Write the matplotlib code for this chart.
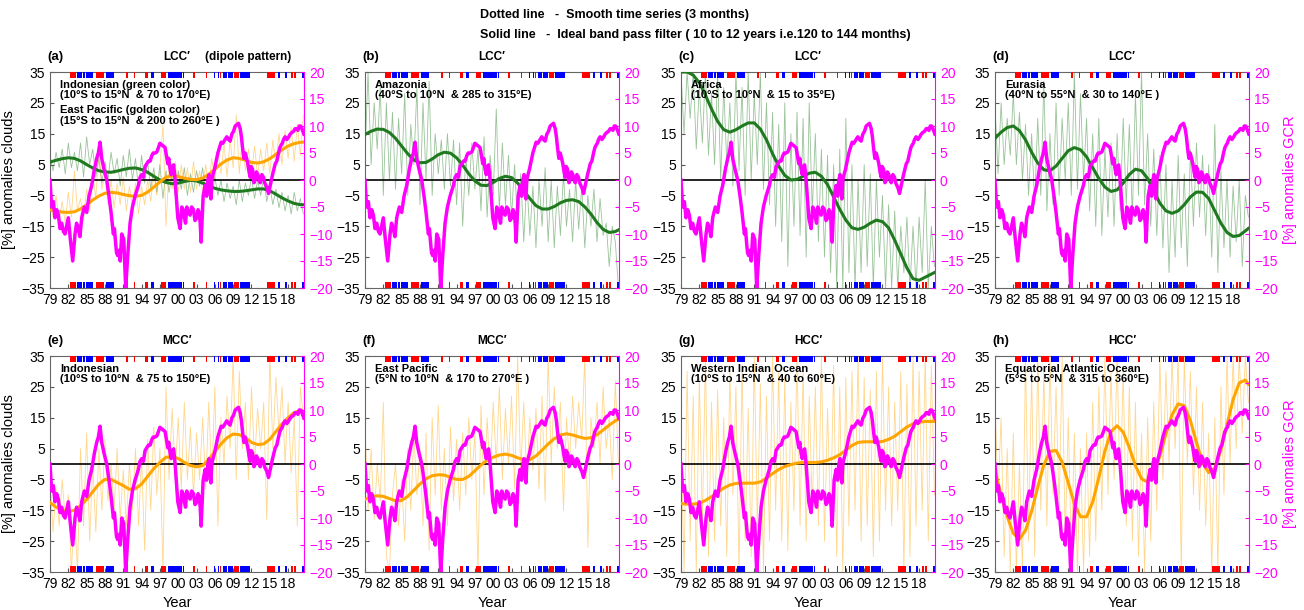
import numpy as np
import matplotlib.pyplot as plt

plt.rcParams['font.family'] = ['Liberation Sans', 'DejaVu Sans']

# sample positions (years)
thin_years = np.arange(1979, 2021, 0.5)
smooth_years = np.append(np.arange(1979, 2021), 2020.5)

# GCR anomalies [%] (right axis)
gcr_years = [1979.00, 1979.27, 1979.55, 1979.82, 1980.09, 1980.37, 1980.64, 1980.91, 1981.19, 1981.46,
             1981.73, 1982.00, 1982.33, 1982.72, 1983.10, 1983.35, 1983.64, 1983.90, 1984.19, 1984.40,
             1984.63, 1985.01, 1985.39, 1985.83, 1986.27, 1986.65, 1986.92, 1987.20, 1987.47, 1987.85,
             1988.29, 1988.67, 1989.00, 1989.38, 1989.55, 1989.77, 1989.90, 1990.09, 1990.37, 1990.50,
             1990.75, 1991.08, 1991.40, 1991.73, 1992.11, 1992.50, 1992.93, 1993.20, 1993.48, 1993.75,
             1994.03, 1994.30, 1994.57, 1995.12, 1995.40, 1995.67, 1995.90, 1996.21, 1996.50, 1996.76,
             1997.00, 1997.31, 1997.60, 1997.85, 1998.29, 1998.45, 1998.67, 1998.85, 1999.05, 1999.25,
             1999.49, 1999.93, 2000.31, 2000.45, 2000.58, 2000.80, 2001.02, 2001.20, 2001.40, 2001.65,
             2001.95, 2002.20, 2002.50, 2002.75, 2003.04, 2003.25, 2003.43, 2003.60, 2003.75, 2004.08,
             2004.41, 2004.65, 2004.85, 2005.05, 2005.23, 2005.35, 2005.50, 2005.70, 2005.94, 2006.49,
             2007.03, 2007.30, 2007.69, 2007.95, 2008.23, 2008.50, 2008.78, 2009.05, 2009.33, 2009.87,
             2010.15, 2010.35, 2010.53, 2010.75, 2010.97, 2011.20, 2011.40, 2011.60, 2011.79, 2011.95,
             2012.17, 2012.40, 2012.61, 2012.80, 2013.04, 2013.25, 2013.43, 2013.70, 2013.97, 2014.15,
             2014.36, 2014.55, 2014.79, 2015.07, 2015.45, 2015.89, 2016.15, 2016.43, 2016.65, 2016.87,
             2017.05, 2017.25, 2017.50, 2017.80, 2018.10, 2018.34, 2018.60, 2018.89, 2019.15, 2019.44,
             2019.60, 2019.82, 2020.05, 2020.26, 2020.58]
gcr_values = [0, -5, -4, -7, -5.5, -6.5, -9, -8, -9.5, -10,
              -8.5, -7, -11, -15, -10, -8, -9, -10.5, -7, -6,
              -5, -6, -3, -1, 2, 4, 5, 7, 4, 2,
              0, -3, -6, -10, -9, -12, -13.5, -14, -13, -15,
              -10, -11, -20, -14, -8, -5, -3, -2, -1, 0.5,
              1, 0.5, 2.5, 3.5, 3.5, 4.5, 5, 5, 5.2, 6,
              6.8, 6.5, 6.2, 6, 3, 4, 2, 1, 2.5, 2.8,
              0, -7, -9, -7, -5, -5.5, -7, -8, -5, -6,
              -6.5, -5, -5.5, -7.5, -7, -5.5, -6, -8, -11.5, -3,
              -1, -3, 0, 1, -2, -3.5, 0, 1, 2, 5,
              7, 6.8, 7.5, 8, 7.5, 7.2, 8.5, 9, 10, 10.5,
              9.5, 8, 6, 4, 5, 4, 3, 1.5, 0.5, 2.5,
              2, -0.5, 0, 1.5, 1, 0, -0.5, 1, 0.5, -0.5,
              -1, -1.5, -2.5, -1, 1, 3, 3.5, 5, 6, 6.5,
              6.8, 7.5, 8, 7.5, 8, 8.5, 8.8, 9, 9.5, 9.5,
              9.2, 10, 10, 9.5, 8.5]

# ENSO episodes (start, end)
el_nino = [(1982.3, 1983.3), (1986.5, 1987.85), (1991.4, 1991.8), (1992.8, 1993.0),
           (1994.6, 1995.0), (1997.1, 1998.05), (2002.4, 2002.8), (2004.5, 2004.7),
           (2006.8, 2007.0), (2009.2, 2010.0), (2014.5, 2015.9), (2018.5, 2018.8),
           (2019.0, 2019.3)]
la_nina = [(1983.5, 1984.2), (1984.4, 1984.8), (1984.9, 1986.1), (1988.2, 1988.8),
           (1988.9, 1989.5), (1995.6, 1995.8), (1995.9, 1996.1), (1998.3, 2000.6),
           (2000.8, 2001.0), (2005.8, 2005.95), (2006.5, 2006.65), (2007.3, 2008.0),
           (2008.15, 2009.05), (2010.1, 2010.9), (2011.0, 2011.8), (2016.4, 2016.7),
           (2017.5, 2017.8), (2020.3, 2020.6)]

# cloud anomalies [%], 3-month smoothed (half-year samples)
a_green_thin = [8, 3, 9, 4, 10, 2, 12, 4, 9, 3, 12, 1, 14, 5, 10, 1, 7, -1, 6, 0,
                9, 2, 7, -2, 8, 1, 10, 0, 7, -3, 8, -1, 6, -3, 4, -4, 5, -6, 3, -4,
                2, -5, 3, -3, 4, -5, 2, -4, 3, -2, 4, -5, 2, -6, 1, -5, 0, -7, -1, -6,
                -2, -8, 0, -7, -1, -5, 1, -6, 0, -5, 1, -7, -2, -8, -3, -9, -4, -10, -5, -11,
                -4, -10, -6, -11]
a_orange_thin = [-6, -12, -5, -13, -7, -14, -4, -12, 3, -10, -6, -13, -3, -10, 2, -6, 10, -3, 2, -8,
                 0, -9, -1, -8, 1, -10, -2, -9, -1, -11, -2, -8, 0, -7, 2, -5, 4, 18, -15, 4,
                 -3, 6, -4, 5, -3, 4, -4, 6, -3, 3, -4, 5, -2, 7, 0, 9, 2, 12, 1, 13,
                 4, 21, 2, 14, 3, 10, 2, 11, 1, 10, 3, 12, 2, 13, 5, 15, 5, 16, 7, 17,
                 6, 18, 8, 21]
b_green_thin = [8, 35, 5, 25, 10, 30, -5, 25, 0, 22, -3, 20, 2, 28, -5, 18, 5, 30, -8, 25,
                0, 32, -5, 15, 2, 13, -3, 15, -2, 13, -8, 12, -15, 8, -5, 12, -3, 10, -10, 14,
                -12, 8, -5, 23, -10, 12, -8, 8, -12, 5, -15, 2, -20, 0, -18, -2, -22, 0, -15, 4,
                -20, 0, -22, -2, -18, 2, -15, -3, -20, 0, -16, -2, -22, -5, -15, -3, -20, -6, -18, -14,
                -28, -15, -20, -35]
c_green_thin = [35, 15, 35, 20, 35, 10, 30, 12, 35, 8, 28, 5, 35, 0, 30, 5, 25, -2, 35, 3,
                30, -5, 35, 0, 28, 5, 35, -3, 25, -8, 22, -15, 18, -20, 25, -28, 15, -15, 22, -18,
                20, -25, 25, -10, 15, -20, 10, -25, 8, -30, 5, -35, 10, -35, 20, -30, 5, -35, 0, -30,
                5, -28, 2, -35, 0, -25, -5, -35, -8, -35, -10, -35, -15, -30, -12, -35, -15, -35, -12, -30,
                0, -35, -15, -28]
d_green_thin = [24, 2, 25, 5, 20, 8, 28, 5, 22, 0, 18, -5, 15, -8, 20, -5, 32, -10, 15, -8,
                25, -5, 20, 0, 25, -5, 35, -3, 28, 0, 20, -10, 15, -15, 20, -18, 10, -12, 12, -15,
                15, -10, 20, -8, 18, -12, 28, -5, 35, -8, 15, -15, 10, -18, 8, -22, 5, -30, 0, -25,
                8, -22, 2, -28, 10, -15, 12, -12, 8, -18, 5, -25, 18, -30, 3, -22, 0, -25, -2, -20,
                0, -28, -5, -12]
e_orange_thin = [-5, -22, -8, -20, -5, -18, -10, -35, -15, -35, 5, -20, 10, -25, 0, -22, 5, -15, 8, -12,
                 0, -15, 5, -18, -2, -20, 0, -15, 5, -20, 2, -28, 8, -15, 12, -10, 5, -35, 25, -5,
                 18, -3, 15, -8, 20, -5, 12, -10, 10, -5, 15, -8, 20, -5, 25, -20, 15, 0, 22, 5,
                 35, -5, 30, 5, 20, -5, 25, 0, 18, 5, 20, -18, 35, 5, 28, 10, 25, 0, 20, -3,
                 15, -20, 25, 15]
f_orange_thin = [12, -15, 5, -18, 0, -12, 20, -30, -35, -10, 0, -20, -5, -25, 5, -15, 10, -10, 5, -20,
                 10, -28, 15, -10, 19, -15, 5, -20, 12, -12, 8, -15, 10, -10, 15, -5, 10, -35, 19, -10,
                 15, -5, 20, 0, 25, -5, 18, 0, 22, -8, 35, -3, 20, -5, 15, -2, 18, -8, 22, -12,
                 35, 0, 25, 5, 20, -15, 15, 0, 22, 5, 20, 8, 35, -27, 15, 5, 20, 0, 25, 5,
                 15, -5, 27, 0]
g_orange_thin = [10, -35, 30, -25, 22, -35, 28, -20, 35, -30, 20, -25, 24, -20, 15, -30, 30, -10, 25, -35,
                 32, -25, 18, -30, 35, -20, 26, -35, 22, -25, 35, -15, 30, -25, 28, -28, 20, -15, 35, -20,
                 30, -25, 22, -15, 25, -20, 35, -25, 18, -18, 32, -30, 25, -35, 28, -20, 30, -15, 35, -25,
                 28, -20, 24, -30, 30, -25, 35, -15, 25, -20, 20, -15, 30, -35, 26, -30, 35, -20, 30, -15,
                 35, -25, 32, -10]
h_orange_thin = [20, -10, 15, -30, 5, -35, 10, -35, 0, -35, 35, -25, 30, -30, 35, -15, 30, -20, 35, -10,
                 25, -15, 35, -25, 15, -30, 10, -35, 5, -35, 10, -30, 20, -25, 25, -15, 35, -10, 30, -5,
                 35, -10, 30, -20, 25, -25, 20, -30, 10, -35, 15, -25, 20, -15, 35, -5, 30, 0, 35, 5,
                 35, -35, 35, 0, 30, -10, 25, -15, 20, -20, 10, -35, 15, -35, 25, -10, 35, 0, 35, 5,
                 35, 10, 35, 20]

# band pass filtered (yearly samples)
a_green_smooth = [5.8, 6.4, 6.9, 7.2, 7.0, 6.2, 5.0, 3.9, 3.0, 2.6,
                  2.5, 2.9, 3.4, 3.8, 3.9, 3.4, 2.5, 1.2, 0.0, -0.8,
                  -1.2, -1.0, -0.5, -0.1, -0.3, -1.0, -1.9, -2.7, -3.2, -3.5,
                  -3.7, -3.7, -3.5, -3.2, -2.9, -2.9, -3.5, -4.6, -5.8, -6.8,
                  -7.6, -8.0, -8.0]
a_orange_smooth = [-9.7, -10.1, -10.4, -10.5, -10.3, -9.4, -8.0, -6.5, -5.2, -4.3,
                   -4.0, -4.2, -4.7, -5.1, -5.3, -5.0, -3.9, -2.3, -0.6, 0.9,
                   1.4, 1.1, 0.6, 0.2, 0.1, 0.6, 1.8, 3.5, 5.2, 6.5,
                   7.2, 7.0, 6.4, 5.7, 5.5, 5.9, 6.9, 8.3, 9.8, 11.0,
                   11.8, 12.2, 12.3]
b_green_smooth = [14.8, 15.8, 16.5, 16.4, 15.4, 13.5, 11.0, 8.5, 6.5, 5.6,
                  5.7, 6.8, 8.2, 9.0, 8.7, 7.2, 4.8, 2.0, -0.3, -1.7,
                  -1.8, -0.8, 0.5, 1.2, 0.8, -1.0, -3.5, -6.0, -8.3, -9.4,
                  -9.4, -8.6, -7.4, -6.6, -6.4, -7.0, -8.7, -11.0, -13.8, -16.0,
                  -17.0, -16.7, -16.2]
c_green_smooth = [35.0, 35.0, 34.0, 31.5, 27.5, 23.0, 19.0, 16.3, 15.5, 16.3,
                  17.5, 18.5, 18.5, 16.5, 13.0, 8.5, 4.5, 1.5, 0.0, 0.2,
                  1.2, 2.2, 2.5, 1.2, -1.5, -5.5, -9.5, -13.0, -15.5, -16.0,
                  -15.3, -14.0, -13.0, -13.5, -15.5, -19.5, -24.0, -28.5, -32.0, -32.5,
                  -31.5, -30.5, -30.0]
d_green_smooth = [13.5, 15.5, 17.0, 17.5, 16.0, 13.0, 9.0, 5.5, 3.3, 3.0,
                  4.5, 7.0, 9.5, 10.5, 9.8, 7.5, 4.0, 0.5, -2.3, -3.7,
                  -3.2, -1.0, 1.8, 3.5, 3.0, 0.5, -3.5, -7.5, -10.0, -10.8,
                  -10.0, -8.0, -5.5, -3.9, -4.0, -6.0, -10.0, -14.0, -17.0, -18.3,
                  -18.0, -16.5, -15.7]
e_orange_smooth = [-12.5, -14.0, -15.0, -15.4, -15.0, -13.5, -11.5, -9.0, -6.5, -5.0,
                   -5.0, -6.0, -7.0, -8.2, -8.0, -6.5, -4.0, -1.5, 0.5, 2.2,
                   2.3, 1.8, 0.5, -0.5, -0.9, -0.5, 1.5, 4.0, 6.5, 8.5,
                   9.7, 9.5, 8.5, 7.0, 6.3, 6.5, 8.0, 10.5, 13.0, 15.0,
                   16.7, 17.3, 17.0]
f_orange_smooth = [-11.5, -10.6, -10.3, -10.5, -11.2, -11.9, -11.8, -10.5, -8.5, -6.5,
                   -4.8, -3.8, -3.5, -3.6, -4.3, -5.0, -5.0, -4.0, -2.2, -0.3,
                   1.2, 2.2, 2.9, 3.2, 2.8, 2.0, 1.4, 1.4, 2.6, 4.5,
                   6.5, 8.2, 9.4, 9.8, 9.4, 8.8, 8.3, 8.5, 9.5, 11.0,
                   12.6, 14.0, 14.5]
g_orange_smooth = [-12.8, -13.0, -13.0, -12.7, -11.8, -10.6, -9.2, -7.8, -6.8, -6.3,
                   -6.2, -6.2, -6.2, -5.8, -4.6, -3.1, -1.8, -0.8, -0.2, 0.3,
                   0.5, 0.5, 0.5, 0.7, 1.2, 2.0, 3.0, 4.5, 6.0, 7.0,
                   7.2, 7.2, 7.2, 7.3, 8.0, 9.0, 10.5, 12.0, 13.0, 13.5,
                   13.8, 13.8, 13.8]
h_orange_smooth = [-2.2, -10.0, -17.0, -22.5, -24.4, -21.5, -15.3, -7.5, -0.3, 4.1,
                   4.4, 0.6, -6.1, -12.9, -17.1, -17.1, -12.3, -4.4, 4.2, 10.5,
                   12.4, 10.3, 5.3, -0.5, -4.8, -5.9, -3.2, 2.6, 9.8, 16.0,
                   19.5, 18.9, 14.1, 7.0, 0.4, -2.8, -1.3, 4.5, 12.8, 20.9,
                   26.3, 27.2, 25.8]

GREEN = '#1f7a1f'
ORANGE = '#ffa500'
MAGENTA = '#ff00ff'

panels = [
    ('(a)', 'LCC\u2032', 50, 72, [(a_green_thin, a_green_smooth, GREEN), (a_orange_thin, a_orange_smooth, ORANGE)],
     ['Indonesian (green color)\n(10\u00b0S to 15\u00b0N  & 70 to 170\u00b0E)',
      'East Pacific (golden color)\n(15\u00b0S to 15\u00b0N  & 200 to 260\u00b0E )']),
    ('(b)', 'LCC\u2032', 365, 72, [(b_green_thin, b_green_smooth, GREEN)],
     ['Amazonia\n(40\u00b0S to 10\u00b0N  & 285 to 315\u00b0E)']),
    ('(c)', 'LCC\u2032', 681, 72, [(c_green_thin, c_green_smooth, GREEN)],
     ['Africa\n(10\u00b0S to 10\u00b0N  & 15 to 35\u00b0E)']),
    ('(d)', 'LCC\u2032', 995, 72, [(d_green_thin, d_green_smooth, GREEN)],
     ['Eurasia\n(40\u00b0N to 55\u00b0N  & 30 to 140\u00b0E )']),
    ('(e)', 'MCC\u2032', 50, 356, [(e_orange_thin, e_orange_smooth, ORANGE)],
     ['Indonesian\n(10\u00b0S to 10\u00b0N  & 75 to 150\u00b0E)']),
    ('(f)', 'MCC\u2032', 365, 356, [(f_orange_thin, f_orange_smooth, ORANGE)],
     ['East Pacific\n(5\u00b0N to 10\u00b0N  & 170 to 270\u00b0E )']),
    ('(g)', 'HCC\u2032', 681, 356, [(g_orange_thin, g_orange_smooth, ORANGE)],
     ['Western Indian Ocean\n(10\u00b0S to 15\u00b0N  & 40 to 60\u00b0E)']),
    ('(h)', 'HCC\u2032', 995, 356, [(h_orange_thin, h_orange_smooth, ORANGE)],
     ['Equatorial Atlantic Ocean\n(5\u00b0S to 5\u00b0N  & 315 to 360\u00b0E)']),
]

W, H = 1304, 610
fig = plt.figure(figsize=(W / 100, H / 100), dpi=100)

fig.text(480 / W, 1 - 15 / H, 'Dotted line   -  Smooth time series (3 months)',
         fontsize=9, fontweight='bold', ha='left', va='center')
fig.text(480 / W, 1 - 35 / H, 'Solid line   -  Ideal band pass filter ( 10 to 12 years i.e.120 to 144 months)',
         fontsize=9, fontweight='bold', ha='left', va='center')

xticks = list(range(1979, 2019, 3))

for i, (label, title, left, top, series, notes) in enumerate(panels):
    ax = fig.add_axes([left / W, 1 - (top + 216) / H, 254 / W, 216 / H])
    ax2 = ax.twinx()

    for spans, col in [(el_nino, 'red'), (la_nina, 'blue')]:
        for s, e in spans:
            ax.axvspan(s, e, ymin=0.972, ymax=1.0, color=col, lw=0, zorder=5)
            ax.axvspan(s, e, ymin=0.0, ymax=0.028, color=col, lw=0, zorder=5)

    for thin, smooth, col in series:
        ax.plot(thin_years, thin, color=col, lw=0.6, alpha=0.45, zorder=2)
    ax.axhline(0, color='black', lw=1.2, zorder=3)
    for thin, smooth, col in series:
        ax.plot(smooth_years, smooth, color=col, lw=2.2, zorder=4)

    ax2.plot(gcr_years, gcr_values, color=MAGENTA, lw=2.5)

    ax.set_xlim(1979, 2020.6)
    ax.set_ylim(-35, 35)
    ax2.set_ylim(-20, 20)
    ax.set_yticks(range(-35, 36, 10))
    ax2.set_yticks(range(-20, 21, 5))
    ax.set_xticks(xticks)
    ax.set_xticklabels(['%02d' % (y % 100) for y in xticks])

    ax.tick_params(axis='both', direction='in', length=3, labelsize=10, color='#555555')
    ax2.tick_params(axis='y', direction='in', length=3, labelsize=10, colors=MAGENTA)
    for sp in ['top', 'left', 'bottom']:
        ax.spines[sp].set_color('#666666')
        ax2.spines[sp].set_visible(False)
    ax.spines['right'].set_visible(False)
    ax2.spines['right'].set_color(MAGENTA)

    ax.text(-0.01, 1.07, label, transform=ax.transAxes, fontsize=9.5, fontweight='bold',
            ha='left', va='center')
    ax.text(0.5, 1.07, title, transform=ax.transAxes, fontsize=8.5, fontweight='bold',
            ha='center', va='center')
    if i == 0:
        ax.text(0.78, 1.07, '(dipole pattern)', transform=ax.transAxes, fontsize=8.5,
                fontweight='bold', ha='center', va='center')

    for k, note in enumerate(notes):
        ax2.text(0.04, 0.965 - k * 0.12, note, transform=ax.transAxes, fontsize=8,
                 fontweight='bold', ha='left', va='top', linespacing=1.05, zorder=6)

    if i in (0, 4):
        ax.set_ylabel('[%] anomalies clouds', fontsize=10.5)
    if i in (3, 7):
        ax2.set_ylabel('[%] anomalies GCR', fontsize=10.5, color=MAGENTA)
    if i >= 4:
        ax.set_xlabel('Year', fontsize=10.5)

fig.savefig('out.png', dpi=100)
